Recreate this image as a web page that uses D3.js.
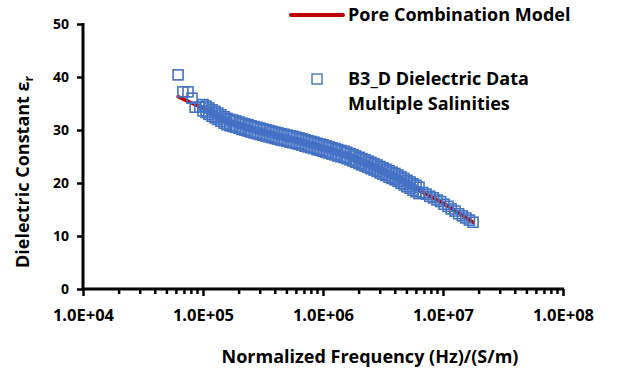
<!DOCTYPE html>
<html>
<head>
<meta charset="utf-8">
<script src="https://cdn.jsdelivr.net/npm/d3@7"></script>
<style>
  html, body { margin: 0; padding: 0; background: #fff; }
  svg { display: block; }
  text { font-family: "Open Sans", sans-serif; font-weight: bold; fill: #000; }
</style>
</head>
<body>
<svg id="chart" width="617" height="374"></svg>
<script>
// ---------- data ----------
const xTickValues = [1e4, 1e5, 1e6, 1e7, 1e8];
const xTickLabels = ["1.0E+04", "1.0E+05", "1.0E+06", "1.0E+07", "1.0E+08"];
const yTickValues = [0, 10, 20, 30, 40, 50];

// early scattered measurements
const earlyFreq = [6.2e4, 6.8e4, 7.5e4, 8.1e4, 8.6e4, 9.4e4];
const earlyEps  = [40.4, 37.2, 37.2, 36.0, 34.3, 34.3];

// dense band (several salinities overlapping)
const bandFreq = [
  1.00e5,1.06e5,1.12e5,1.19e5,1.26e5,1.33e5,1.41e5,1.50e5,1.58e5,1.68e5,
  1.78e5,1.88e5,2.00e5,2.11e5,2.24e5,2.37e5,2.51e5,2.66e5,2.82e5,2.99e5,
  3.16e5,3.35e5,3.55e5,3.76e5,3.98e5,4.22e5,4.47e5,4.73e5,5.01e5,5.31e5,
  5.62e5,5.96e5,6.31e5,6.68e5,7.08e5,7.50e5,7.94e5,8.41e5,8.91e5,9.44e5,
  1.00e6,1.06e6,1.12e6,1.19e6,1.26e6,1.33e6,1.41e6,1.50e6,1.58e6,1.68e6,
  1.78e6,1.88e6,2.00e6,2.11e6,2.24e6,2.37e6,2.51e6,2.66e6,2.82e6,2.99e6,
  3.16e6,3.35e6,3.55e6,3.76e6,3.98e6,4.22e6,4.47e6,4.73e6,5.01e6,5.31e6,
  5.62e6,5.96e6,6.31e6
];
const bandEpsHigh = [
  34.8,34.5,34.15,33.8,33.5,33.2,32.85,32.5,32.2,32.0,
  31.85,31.7,31.5,31.3,31.15,31.0,30.8,30.65,30.5,30.35,
  30.2,30.05,29.9,29.75,29.6,29.45,29.3,29.2,29.05,28.9,
  28.8,28.65,28.5,28.35,28.15,28.0,27.85,27.7,27.5,27.35,
  27.2,27.0,26.85,26.65,26.5,26.3,26.15,26.0,25.8,25.55,
  25.35,25.1,24.85,24.6,24.4,24.15,23.9,23.65,23.4,23.1,
  22.85,22.6,22.3,22.05,21.8,21.5,21.15,20.85,20.5,20.2,
  19.85,19.55,19.2
];
const bandEpsLow = [
  33.6,33.3,32.95,32.6,32.3,32.0,31.65,31.3,31.0,30.8,
  30.65,30.5,30.3,30.1,29.95,29.8,29.6,29.45,29.3,29.15,
  29.0,28.85,28.7,28.55,28.4,28.25,28.1,28.0,27.85,27.7,
  27.6,27.45,27.3,27.15,26.95,26.8,26.65,26.5,26.3,26.15,
  26.0,25.8,25.65,25.45,25.3,25.1,24.95,24.8,24.6,24.35,
  24.15,23.9,23.65,23.4,23.2,22.95,22.7,22.45,22.2,21.9,
  21.65,21.4,21.1,20.85,20.6,20.3,19.95,19.65,19.3,19.0,
  18.65,18.35,18.0
];

// high-frequency tail
const tailFreq = [6.76e6,7.24e6,7.76e6,8.32e6,8.91e6,9.55e6,1.02e7,1.10e7,1.17e7,1.26e7,1.35e7,1.45e7,1.55e7,1.66e7,1.78e7];
const tailEps  = [18.2,17.9,17.5,17.2,16.8,16.5,16.0,15.6,15.1,14.7,14.2,13.8,13.4,13.0,12.6];

// pore combination model
const modelFreq = [6.2e4, 8.4e4, 1.0e5, 1.58e5, 2.51e5, 3.98e5, 6.31e5, 1.0e6, 1.58e6, 2.51e6, 3.98e6, 6.31e6, 1.0e7, 1.78e7];
const modelEps  = [36.3, 34.9, 34.2, 31.6, 30.2, 29.0, 27.9, 26.6, 25.2, 23.3, 21.2, 18.6, 16.2, 12.6];

// ---------- layout ----------
const svg = d3.select("#chart");
const x = d3.scaleLog().domain([1e4, 1e8]).range([83, 563]);
const y = d3.scaleLinear().domain([0, 50]).range([289, 24]);

const blue = "#4472C4";
const red = "#C00000";
const FONT = '"Open Sans", sans-serif';

// model line
const modelPts = modelFreq.map((f, i) => [f, modelEps[i]]);
svg.append("path")
  .datum(modelPts)
  .attr("fill", "none")
  .attr("stroke", red)
  .attr("stroke-width", 3.5)
  .attr("stroke-linecap", "round")
  .attr("d", d3.line().x(d => x(d[0])).y(d => y(d[1])).curve(d3.curveMonotoneX));

// scatter points
const pts = [];
earlyFreq.forEach((f, i) => pts.push([f, earlyEps[i]]));
bandFreq.forEach((f, i) => { pts.push([f, bandEpsHigh[i]]); pts.push([f, bandEpsLow[i]]); });
tailFreq.forEach((f, i) => pts.push([f, tailEps[i]]));

const sq = 10;
svg.append("g").selectAll("rect")
  .data(pts)
  .join("rect")
  .attr("x", d => x(d[0]) - sq / 2)
  .attr("y", d => y(d[1]) - sq / 2)
  .attr("width", sq)
  .attr("height", sq)
  .attr("fill", "none")
  .attr("stroke", blue)
  .attr("stroke-width", 1.6);

// ---------- axes ----------
const yAxis = d3.axisLeft(y).tickValues(yTickValues).tickSize(6).tickPadding(8).tickFormat(d3.format("d"));
const gy = svg.append("g").attr("transform", "translate(83,0)").call(yAxis);
gy.select(".domain").attr("stroke", "#000").attr("stroke-width", 3).attr("d", "M0,290V23");
gy.selectAll(".tick line").attr("stroke", "#000").attr("stroke-width", 2.5);
gy.selectAll(".tick text").style("font-size", "14px").style("font-family", FONT).style("font-weight", "bold");

// x axis: minor ticks
const minorVals = [];
[1e4, 1e5, 1e6, 1e7].forEach(b => { for (let k = 2; k <= 9; k++) minorVals.push(b * k); });
const gxMinor = svg.append("g").attr("transform", "translate(0,289)");
gxMinor.selectAll("line").data(minorVals).join("line")
  .attr("x1", d => x(d)).attr("x2", d => x(d))
  .attr("y1", 0).attr("y2", 5)
  .attr("stroke", "#000").attr("stroke-width", 2.5);

const xAxis = d3.axisBottom(x).tickValues(xTickValues).tickSize(7).tickPadding(13)
  .tickFormat((d, i) => xTickLabels[i]);
const gx = svg.append("g").attr("transform", "translate(0,289)").call(xAxis);
gx.select(".domain").attr("stroke", "#000").attr("stroke-width", 3).attr("d", "M82,0H564");
gx.selectAll(".tick line").attr("stroke", "#000").attr("stroke-width", 2.5);
gx.selectAll(".tick text").style("font-size", "16.5px").style("font-family", FONT).style("font-weight", "bold");

// axis titles
svg.append("text")
  .attr("x", 370).attr("y", 363)
  .attr("text-anchor", "middle")
  .style("font-size", "18px")
  .text("Normalized Frequency (Hz)/(S/m)");

const yt = svg.append("text")
  .attr("transform", "translate(29,172) rotate(-90)")
  .attr("text-anchor", "middle")
  .style("font-size", "18px");
yt.append("tspan").text("Dielectric Constant  ε");
yt.append("tspan").attr("dy", 4).style("font-size", "12px").text("r");

// ---------- legend ----------
svg.append("line")
  .attr("x1", 291).attr("x2", 343).attr("y1", 15).attr("y2", 15)
  .attr("stroke", red).attr("stroke-width", 4).attr("stroke-linecap", "round");
svg.append("text").attr("x", 348).attr("y", 21).style("font-size", "18px").text("Pore Combination Model");

svg.append("rect")
  .attr("x", 312).attr("y", 74).attr("width", sq).attr("height", sq)
  .attr("fill", "none").attr("stroke", blue).attr("stroke-width", 1.4);
svg.append("text").attr("x", 348).attr("y", 85).style("font-size", "18px").text("B3_D Dielectric Data");
svg.append("text").attr("x", 348).attr("y", 110).style("font-size", "18px").text("Multiple Salinities");
</script>
</body>
</html>
